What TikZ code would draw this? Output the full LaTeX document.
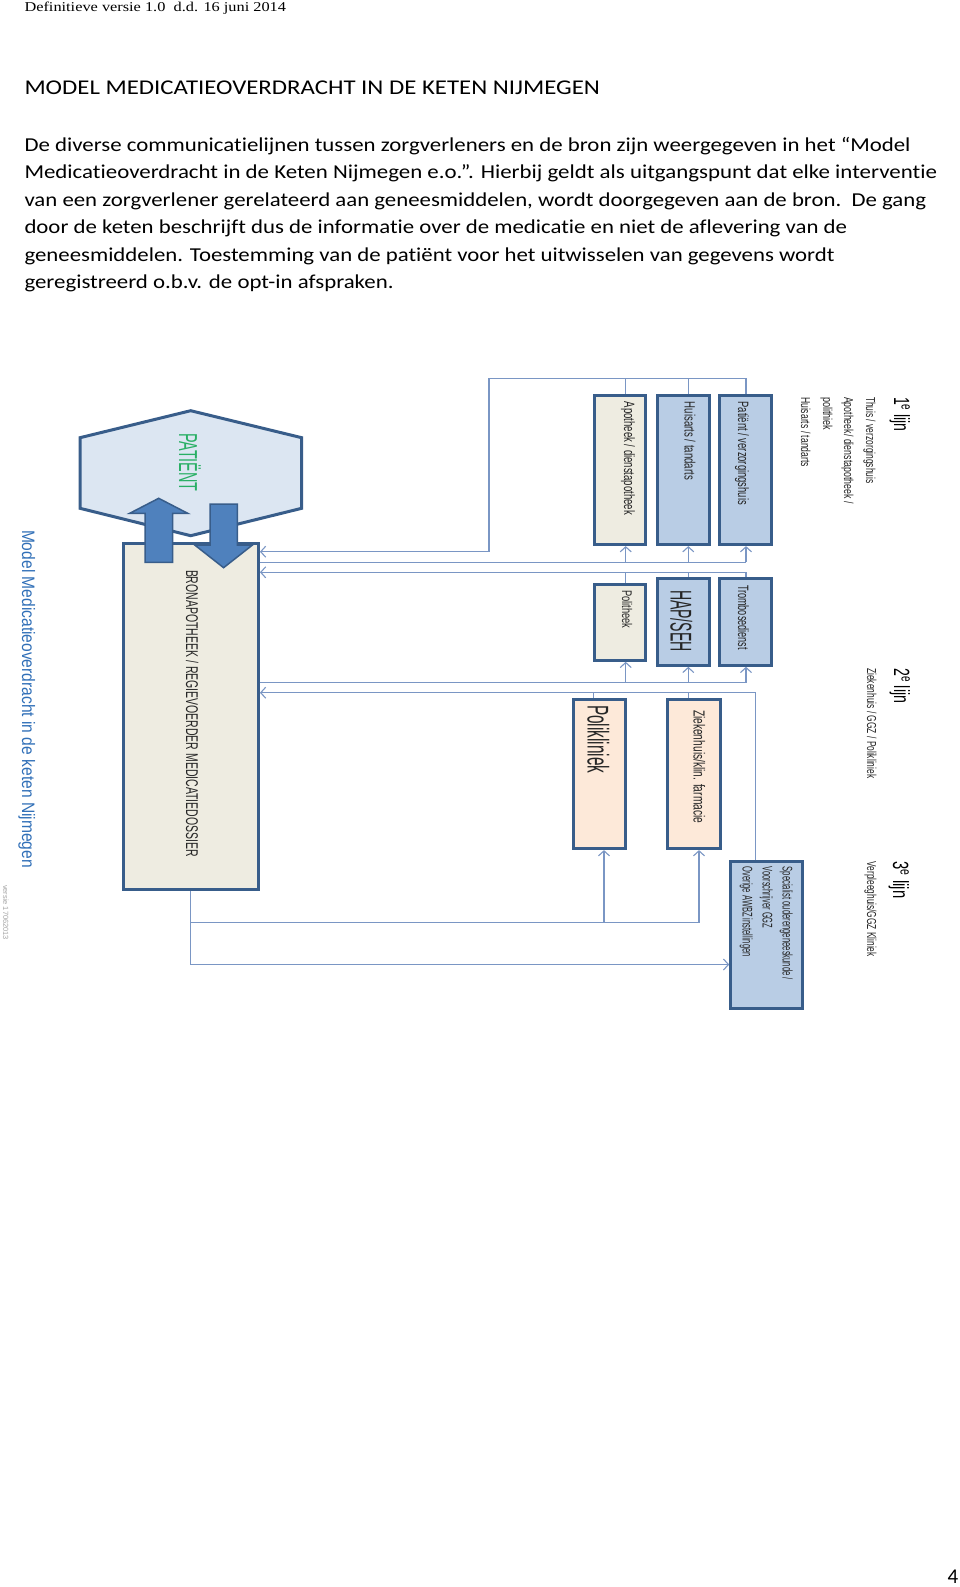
\documentclass[tikz,border=0pt]{standalone}
\usepackage{fontspec}
\usepackage{graphicx}
\usetikzlibrary{arrows.meta}
\setmainfont{Carlito}[Ligatures=NoCommon]
\newfontfamily\serifrm{Liberation Serif}
\newfontfamily\ars{Liberation Sans}
\newcommand\fitto[2]{\resizebox{#1pt}{\height}{#2}}
\newcommand\fs[1]{\ars\fontsize{#1}{#1}\selectfont}
\definecolor{bord}{RGB}{56,93,138}
\definecolor{beige}{HTML}{EEECE1}
\definecolor{lblue}{HTML}{B9CDE5}
\definecolor{peach}{HTML}{FDE9D9}
\definecolor{hexfill}{HTML}{DCE6F2}
\definecolor{afill}{HTML}{4F81BD}
\definecolor{connc}{RGB}{122,150,196}
\definecolor{pgreen}{RGB}{40,175,100}
\definecolor{tblue}{RGB}{49,112,184}
\definecolor{txt}{RGB}{38,38,38}
\begin{document}
\begin{tikzpicture}[x=1pt,y=-1pt,
  rt/.style={rotate=-90, anchor=base west, inner sep=0pt, outer sep=0pt, text=txt},
  ht/.style={anchor=base west, inner sep=0pt, outer sep=0pt, text=black},
  box/.style={draw=bord, line width=3.2pt, inner sep=0pt},
  conn/.style={draw=connc, line width=1.2pt},
  arr/.style={-{Straight Barb[length=5pt,width=11pt,line width=1.1pt]}},
  bigarrow/.style={fill=afill, draw=bord, line width=1.5pt, line join=miter}]
\useasboundingbox (0,0) rectangle (960,1587);
\fill[white] (0,0) rectangle (960,1587);

% ---------- header texts ----------
\node[ht, font=\serifrm\fontsize{13.5}{14}\selectfont] (hdr) at (24.5,12) {\fitto{261.5}{Definitieve versie 1.0\ \ d.d. 16 juni 2014}};
\node[ht, font=\fontsize{21}{22}\selectfont] (title) at (24.5,94.3) {\fitto{575.5}{MODEL MEDICATIEOVERDRACHT IN DE KETEN NIJMEGEN}};
\node[ht, font=\fontsize{19.7}{20}\selectfont] (p1) at (24.5,151) {\fitto{886}{De diverse communicatielijnen tussen zorgverleners en de bron zijn weergegeven in het “Model}};
\node[ht, font=\fontsize{19.7}{20}\selectfont] (p2) at (24.5,178.5) {\fitto{912.5}{Medicatieoverdracht in de Keten Nijmegen e.o.”. Hierbij geldt als uitgangspunt dat elke interventie}};
\node[ht, font=\fontsize{19.7}{20}\selectfont] (p3) at (24.5,206) {\fitto{901.5}{van een zorgverlener gerelateerd aan geneesmiddelen, wordt doorgegeven aan de bron.\ \ De gang}};
\node[ht, font=\fontsize{19.7}{20}\selectfont] (p4) at (24.5,233.5) {\fitto{822.5}{door de keten beschrijft dus de informatie over de medicatie en niet de aflevering van de}};
\node[ht, font=\fontsize{19.7}{20}\selectfont] (p5) at (24.5,261) {\fitto{810}{geneesmiddelen. Toestemming van de patiënt voor het uitwisselen van gegevens wordt}};
\node[ht, font=\fontsize{19.7}{20}\selectfont] (p6) at (24.5,288.5) {\fitto{369}{geregistreerd o.b.v. de opt-in afspraken.}};
\node[ht, font=\fontsize{21}{22}\selectfont] (pnum) at (947.5,1583) {4};

% ---------- patient hexagon ----------
\draw[draw=bord, fill=hexfill, line width=3pt, line join=miter]
  (190.7,410.7) -- (301.7,437.7) -- (301.7,508.3) -- (190.7,535.7) -- (80,508.3) -- (80,437.7) -- cycle;
\node[rt, text=pgreen, font=\fs{26}] (patlbl) at (179,433) {\fitto{58.7}{PATIËNT}};

% ---------- bron ----------
\node[box, fill=beige, minimum width=135, minimum height=346] (bron) at (190.85,716.35) {};
\node[rt, font=\fs{17}] (bronlbl) at (186,570) {\fitto{286.7}{BRONAPOTHEEK / REGIEVOERDER MEDICATIEDOSSIER}};

% ---------- big arrows ----------
\draw[bigarrow] (145,562.3) -- (145,513.3) -- (129.7,513.3) -- (158.7,498.3) -- (187.7,513.3) -- (172.5,513.3) -- (172.5,562.3) -- cycle;
\draw[bigarrow] (210,504) -- (237.3,504) -- (237.3,545) -- (252.5,545) -- (223.6,567.7) -- (194.7,545) -- (210,545) -- cycle;

% ---------- left title ----------
\node[rt, text=tblue, font=\fs{18}] (mtitle) at (22.2,530) {\fitto{338}{Model Medicatieoverdracht in de keten Nijmegen}};
\node[rt, text=gray!70, font=\fs{7.5}] (vers) at (3,885) {\fitto{55}{versie 17062013}};

% ---------- row 1 ----------
\node[box, fill=beige, minimum width=51.6, minimum height=148.7] (apo) at (620,470.15) {};
\node[box, fill=lblue, minimum width=52, minimum height=148.7] (hui) at (683.2,470.15) {};
\node[box, fill=lblue, minimum width=52, minimum height=148.7] (pat) at (745.8,470.15) {};
\node[rt, font=\fs{15}] (tapo) at (624,401.7) {\fitto{113.3}{Apotheek / dienstapotheek}};
\node[rt, font=\fs{15}] (thui) at (684.5,401.7) {\fitto{78.3}{Huisarts / tandarts}};
\node[rt, font=\fs{15}] (tpat) at (738,401.7) {\fitto{103.3}{Patiënt / verzorgingshuis}};

% ---------- row 2 ----------
\node[box, fill=beige, minimum width=51.6, minimum height=76] (pol) at (620,622.2) {};
\node[box, fill=lblue, minimum width=52, minimum height=86.4] (hap) at (683.2,622) {};
\node[box, fill=lblue, minimum width=52, minimum height=86.4] (tro) at (745.8,622) {};
\node[rt, font=\fs{14}] (tpol) at (622,590) {\fitto{38.3}{Politheek}};
\node[rt, font=\fs{30}] (thap) at (670.5,590) {\fitto{61.7}{HAP/SEH}};
\node[rt, font=\fs{15}] (ttro) at (738,585) {\fitto{65}{Trombosedienst}};

% ---------- row 3 ----------
\node[box, fill=peach, minimum width=51.4, minimum height=149.3] (pk) at (599.5,773.85) {};
\node[box, fill=peach, minimum width=52.7, minimum height=149.3] (zh) at (693.85,773.85) {};
\node[rt, font=\fs{30}] (tpk) at (587.5,705) {\fitto{68.3}{Polikliniek}};
\node[rt, font=\fs{16}] (tzh) at (693.5,710) {\fitto{113.3}{Ziekenhuis/klin. farmacie}};

% ---------- 3e lijn box ----------
\node[box, fill=lblue, minimum width=72, minimum height=147] (third) at (766.8,935) {};
\node[rt, font=\fs{14}] (t3a) at (782.5,866.7) {\fitto{113.3}{Specialist ouderengeneeskunde /}};
\node[rt, font=\fs{14}] (t3b) at (762.5,866.7) {\fitto{61.7}{Voorschrijver GGZ}};
\node[rt, font=\fs{14}] (t3c) at (742.5,866.7) {\fitto{90}{Overige AWBZ instellingen}};

% ---------- right column labels ----------
\node[rt, text=black, font=\fs{22}] (l1) at (894,397) {\fitto{34.7}{1\textsuperscript{e} lijn}};
\node[rt, font=\fs{13}] (l1a) at (866,397) {\fitto{86.6}{Thuis / verzorgingshuis}};
\node[rt, font=\fs{13}] (l1b) at (844,397) {\fitto{106.6}{Apotheek/ dienstapotheek /}};
\node[rt, font=\fs{13}] (l1c) at (823,397) {\fitto{33.3}{polithiek}};
\node[rt, font=\fs{13}] (l1d) at (801,397) {\fitto{70}{Huisarts / tandarts}};
\node[rt, text=black, font=\fs{22}] (l2) at (894,668.3) {\fitto{35}{2\textsuperscript{e} lijn}};
\node[rt, font=\fs{13}] (l2a) at (867,668.3) {\fitto{110}{Ziekenhuis / GGZ / Polikliniek}};
\node[rt, text=black, font=\fs{22}] (l3) at (893,861.7) {\fitto{36.6}{3\textsuperscript{e} lijn}};
\node[rt, font=\fs{13}] (l3a) at (867,861.7) {\fitto{95}{Verpleeghuis/GGZ Kliniek}};

% ---------- connectors ----------
\coordinate (cA) at (625.7,0); \coordinate (cB) at (688.3,0); \coordinate (cC) at (746,0);
\coordinate (cD) at (755.7,0); \coordinate (cE) at (593.3,0); \coordinate (cF) at (688.3,0);
\coordinate (cG) at (604,0);   \coordinate (cH) at (699,0);
\coordinate (yT) at (0,378.3);
\coordinate (loopTL) at (489,378.3);
\coordinate (loopBL) at (489,551.7);
\coordinate (y1) at (0,562.3);
\coordinate (y2) at (0,572.3);
\coordinate (y3) at (0,682.5);
\coordinate (y4) at (0,692.7);
\coordinate (y5) at (0,922.5);
\coordinate (y6) at (0,964.5);

% row 1 -> bron (top loop)
\draw[conn] (cA |- apo.north) -- (cA |- yT);
\draw[conn] (cB |- hui.north) -- (cB |- yT);
\draw[conn, arr] (cC |- pat.north) -- (cC |- yT) -- (loopTL) -- (loopBL) -- (loopBL -| bron.east);
% bron -> row 1
\draw[conn] (bron.east |- y1) -- (cC |- y1);
\draw[conn, arr] (cA |- y1) -- (cA |- apo.south);
\draw[conn, arr] (cB |- y1) -- (cB |- hui.south);
\draw[conn, arr] (cC |- y1) -- (cC |- pat.south);
% row 2 -> bron
\draw[conn] (cA |- pol.north) -- (cA |- y2);
\draw[conn] (cB |- hap.north) -- (cB |- y2);
\draw[conn, arr] (cC |- tro.north) -- (cC |- y2) -- (bron.east |- y2);
% bron -> row 2
\draw[conn] (bron.east |- y3) -- (cC |- y3);
\draw[conn, arr] (cA |- y3) -- (cA |- pol.south);
\draw[conn, arr] (cB |- y3) -- (cB |- hap.south);
\draw[conn, arr] (cC |- y3) -- (cC |- tro.south);
% row 3 and 3e lijn -> bron
\draw[conn] (cE |- pk.north) -- (cE |- y4);
\draw[conn] (cF |- zh.north) -- (cF |- y4);
\draw[conn, arr] (cD |- third.north) -- (cD |- y4) -- (bron.east |- y4);
% bron -> row 3 and 3e lijn
\draw[conn, arr] (bron.south) -- (bron.south |- y6) -- (third.west |- y6);
\draw[conn] (bron.south |- y5) -- (cH |- y5);
\draw[conn, arr] (cG |- y5) -- (cG |- pk.south);
\draw[conn, arr] (cH |- y5) -- (cH |- zh.south);
\end{tikzpicture}
\end{document}
